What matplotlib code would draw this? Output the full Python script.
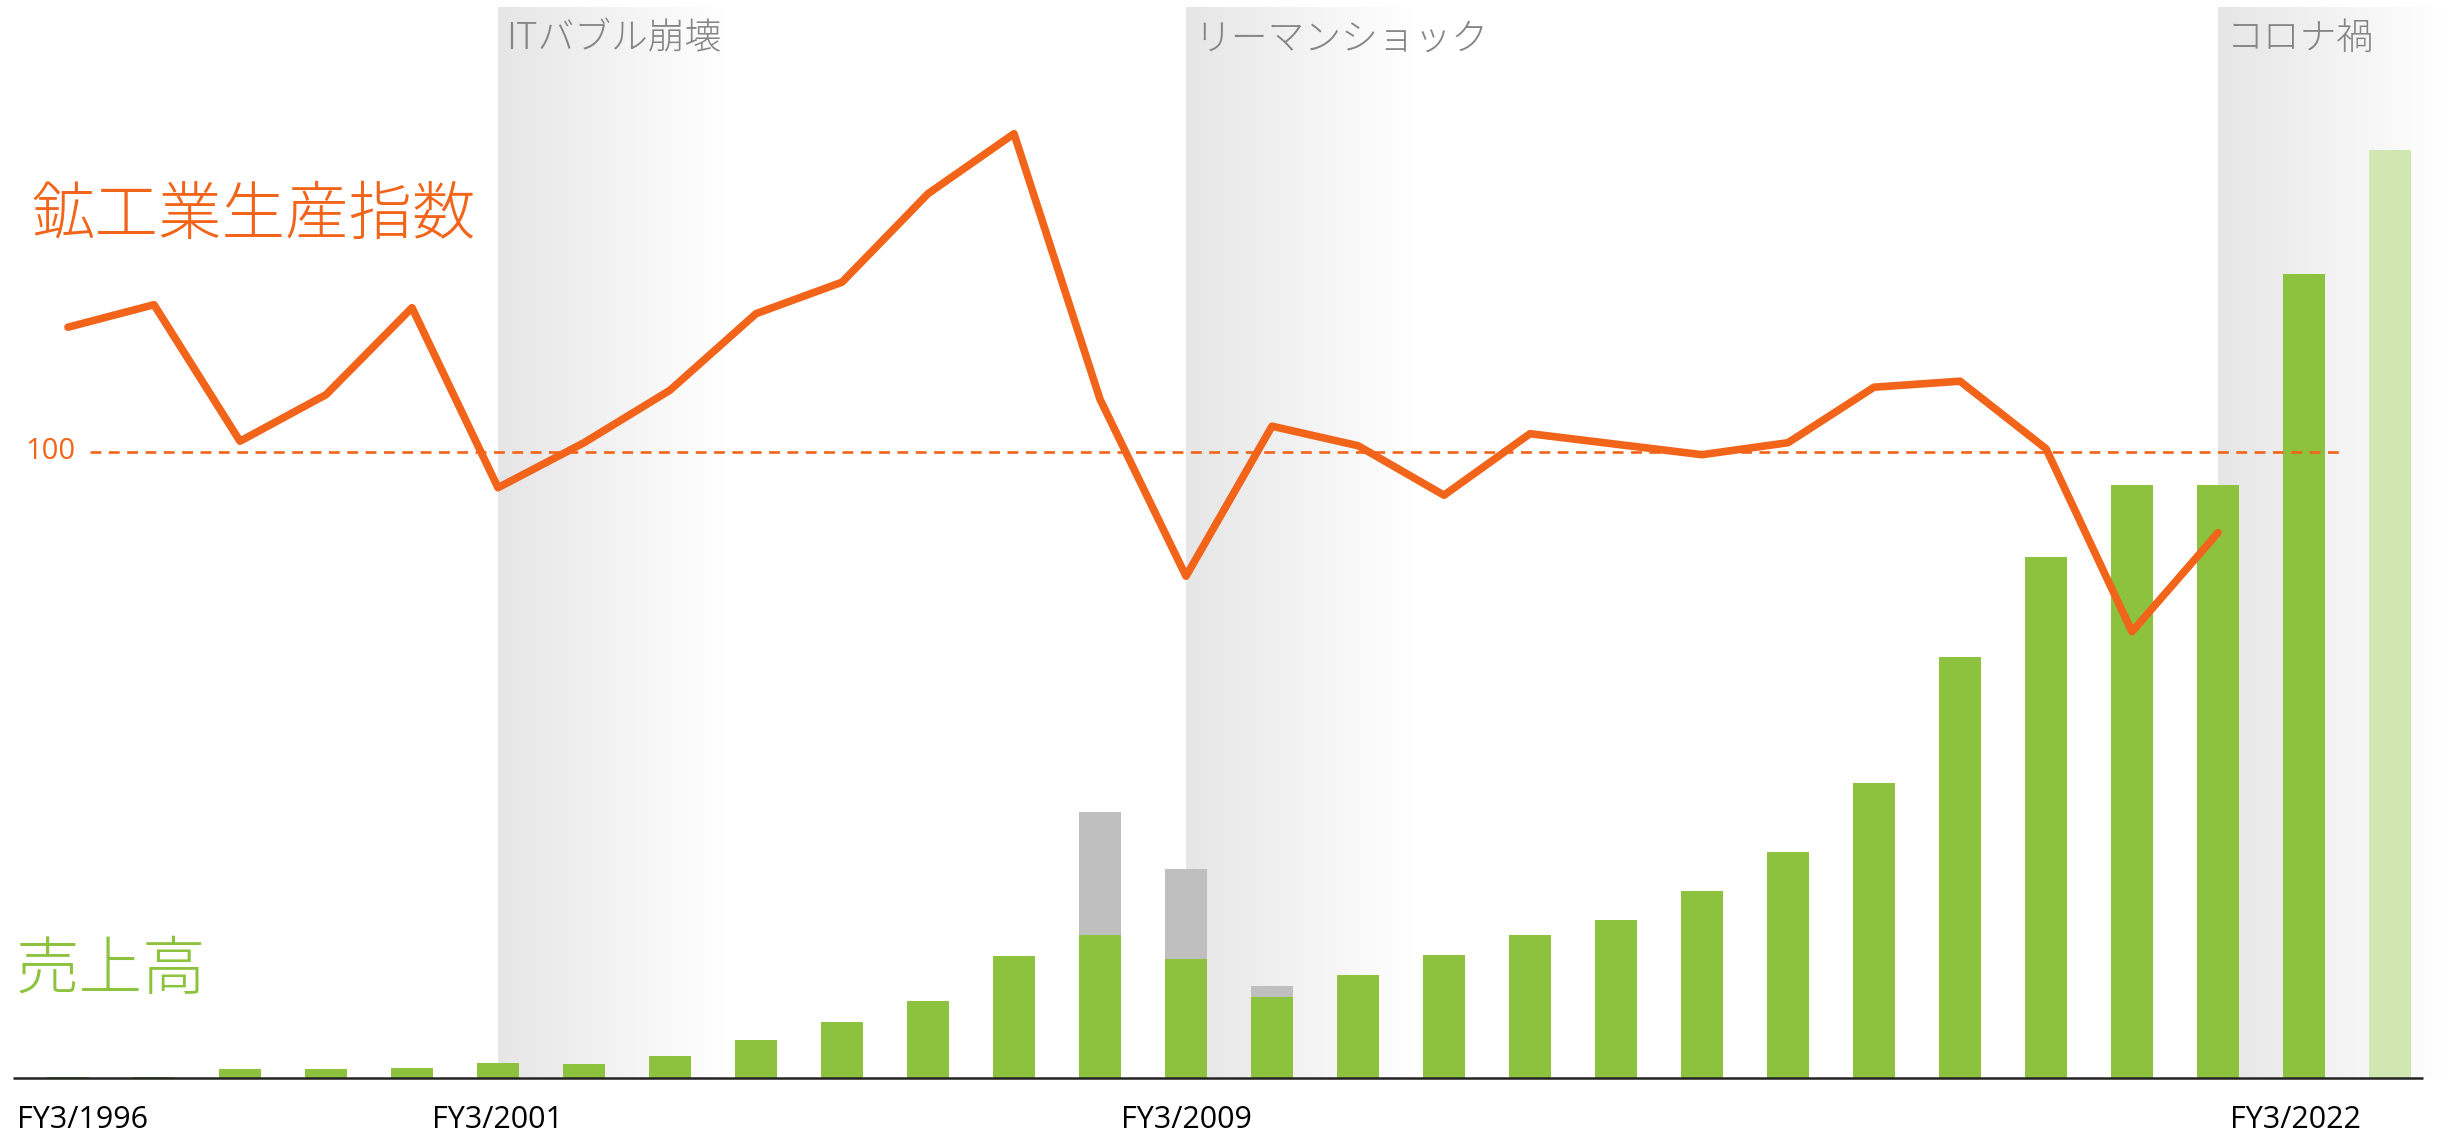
#!/usr/bin/env python3
"""Sales bars vs. mining & manufacturing production index, FY3/1996 - FY3/2023."""

import matplotlib

matplotlib.use("Agg")
import matplotlib.pyplot as plt
import numpy as np
from matplotlib.colors import LinearSegmentedColormap
from matplotlib.transforms import blended_transform_factory

plt.rcParams["font.family"] = ["Noto Sans CJK JP", "DejaVu Sans"]

# fiscal years (FY3/xxxx) for the bars
YEARS = list(range(1996, 2024))
# sales, continuing part (green)
SALES = [0.8, 0.8, 8.3, 8.5, 9.7, 14.7, 13.7, 22.0, 38.0, 55.7, 76.7, 121.7, 143.0, 118.3,
         81.0, 102.7, 122.7, 142.7, 157.3, 186.7, 225.7, 294.7, 421.0, 521.0, 593.0, 593.0,
         804.0, 928.0]
# sales of the part shown in grey, stacked on top
SALES_OTHER = [0, 0, 0, 0, 0, 0, 0, 0, 0, 0, 0, 0, 122.7, 90.0,
               10.7, 0, 0, 0, 0, 0, 0, 0, 0, 0, 0, 0,
               0, 0]
FORECAST_YEAR = 2023

# production index, FY3/1996 - FY3/2021
INDEX_YEARS = list(range(1996, 2022))
INDEX = [108.3, 109.8, 100.7, 103.8, 109.6, 97.6, 100.6, 104.1, 109.2, 111.3, 117.2, 121.2,
         103.5, 91.7, 101.7, 100.4, 97.1, 101.2, 100.5, 99.8, 100.6, 104.3, 104.7, 100.2,
         88.0, 94.6]
INDEX_REF = 100

TICK_YEARS = [1996, 2001, 2009, 2022]
EVENTS = [("ITバブル崩壊", 2001), ("リーマンショック", 2009), ("コロナ禍", 2021)]

ORANGE = "#F26419"
GREEN = "#8DC23F"
LIGHT_GREEN = "#D1E7B1"
GREY = "#BFBFBF"
TEXT_GREY = "#858585"

# layout in output pixels
W, H = 2445, 1135
X0_PX = 68.0        # centre of FY3/1996
STEP_PX = 86.0      # one fiscal year
BASE_PX = 1077.5    # sales baseline, from top
REF_PX = 451.7      # index = 100, from top
PX_PER_POINT = 15.0


def px_to_x(px: float) -> float:
    return (px - X0_PX) / STEP_PX


fig = plt.figure(figsize=(W / 100, H / 100), dpi=100)
ax = fig.add_axes([0, 0, 1, 1])
ax2 = ax.twinx()

pos = np.array(YEARS) - YEARS[0]

# shaded crisis periods, fading to white
fade = LinearSegmentedColormap.from_list("fade", ["#E6E6E6", "#FFFFFF"])
grad = np.linspace(0, 1, 256).reshape(1, -1)
for label, year in EVENTS:
    x_start = year - YEARS[0]
    ax.imshow(grad, extent=[x_start, x_start + 2.65, 0, BASE_PX - 8], aspect="auto",
              cmap=fade, zorder=0, interpolation="bilinear")

colors = [LIGHT_GREEN if y == FORECAST_YEAR else GREEN for y in YEARS]
ax.bar(pos, SALES, width=0.49, color=colors, zorder=2)
ax.bar(pos, SALES_OTHER, bottom=SALES, width=0.49, color=GREY, zorder=2)
ax.hlines(0, px_to_x(13), px_to_x(2423), color="#222222", lw=1.8, zorder=3)

ax.set_xlim(px_to_x(0), px_to_x(W))
ax.set_ylim(-(H - BASE_PX), BASE_PX)
ax2.set_ylim(INDEX_REF - (H - REF_PX) / PX_PER_POINT, INDEX_REF + REF_PX / PX_PER_POINT)

idx_pos = np.array(INDEX_YEARS) - YEARS[0]
ax2.hlines(INDEX_REF, px_to_x(90), px_to_x(2339), colors=ORANGE, lw=1.9,
           linestyles=(0, (4.1, 2.85)), zorder=2)
ax2.plot(idx_pos, INDEX, color=ORANGE, lw=5.5, solid_joinstyle="round",
         solid_capstyle="round", zorder=3)

for a in (ax, ax2):
    a.axis("off")

# labels
fig.text(31 / W, 1 - 216 / H, "鉱工業生産指数", fontsize=45.7, color=ORANGE, ha="left",
         va="center", fontweight="light")
fig.text(16 / W, 1 - 972 / H, "売上高", fontsize=45.7, color=GREEN, ha="left", va="center",
         fontweight="light")
fig.text(75 / W, 1 - REF_PX / H, "100", fontsize=21, color=ORANGE, ha="right", va="center",
         family="Open Sans")

trans = blended_transform_factory(ax.transData, fig.transFigure)
for label, year in EVENTS:
    ax.text(year - YEARS[0] + 0.1, 1 - 39 / H, label, transform=trans, fontsize=26.5,
            color=TEXT_GREY, ha="left", va="center", fontweight="light")

for year in TICK_YEARS:
    x = year - YEARS[0]
    ha = "center"
    if year == YEARS[0]:
        x, ha = px_to_x(17), "left"
    elif year == TICK_YEARS[-1]:
        x -= 0.1
    ax.text(x, 1 - 1119.5 / H, f"FY3/{year}", transform=trans, fontsize=22, color="black",
            ha=ha, va="center", family="Open Sans")

fig.savefig("out.png", dpi=100)
plt.close(fig)
